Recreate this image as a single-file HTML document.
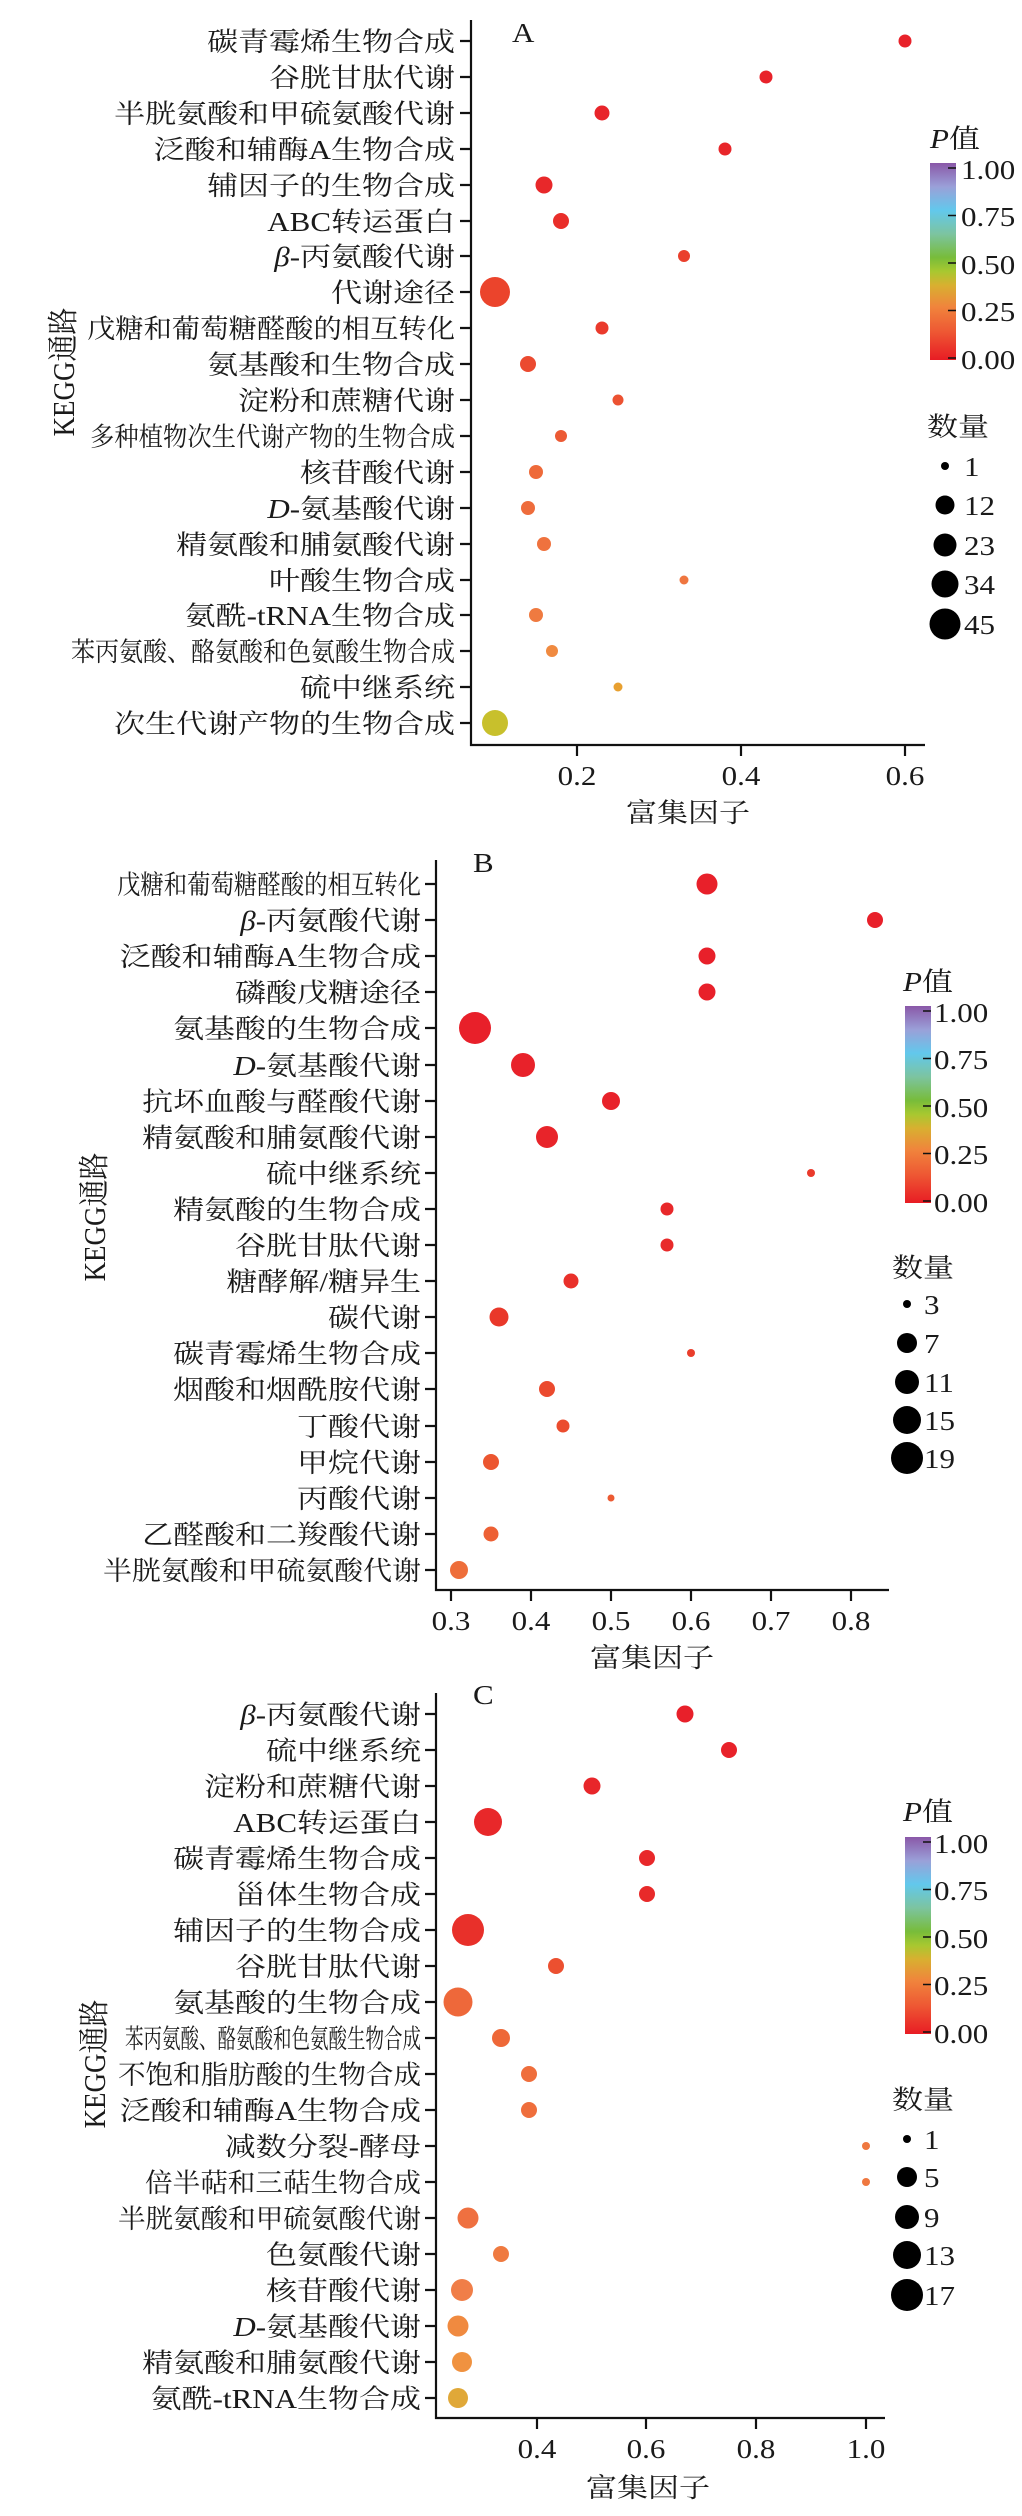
<!DOCTYPE html>
<html><head><meta charset="utf-8"><style>
html,body{margin:0;padding:0;background:#fff;}
svg text{font-family:"Liberation Serif","Noto Serif CJK SC","Noto Sans CJK SC",serif;fill:#1a1a1a;}
</style></head><body>
<svg width="1022" height="2511" viewBox="0 0 1022 2511" xmlns="http://www.w3.org/2000/svg">
<defs>
<linearGradient id="pg" x1="0" y1="1" x2="0" y2="0">
<stop offset="0" stop-color="#e81c24"/>
<stop offset="0.15" stop-color="#ee5a34"/>
<stop offset="0.27" stop-color="#f0843c"/>
<stop offset="0.38" stop-color="#d8b030"/>
<stop offset="0.45" stop-color="#a8c830"/>
<stop offset="0.52" stop-color="#78bc3a"/>
<stop offset="0.64" stop-color="#7cc4a0"/>
<stop offset="0.76" stop-color="#62c8ec"/>
<stop offset="0.88" stop-color="#9aa0d8"/>
<stop offset="1" stop-color="#8a58a8"/>
</linearGradient>
</defs>
<g font-size="31">

<!-- ================= PANEL A ================= -->
<g stroke="#111" stroke-width="2.2" fill="none">
<path d="M471 20 V745 H925"/>
<path d="M460 41H471M460 77H471M460 113H471M460 149H471M460 185H471M460 221H471M460 256H471M460 292H471M460 328H471M460 364H471M460 400H471M460 436H471M460 472H471M460 508H471M460 544H471M460 580H471M460 615H471M460 651H471M460 687H471M460 723H471"/>
<path d="M577 745V756M741 745V756M905 745V756"/>
</g>
<g text-anchor="end">
<text transform="translate(455,51) scale(1,0.87)">碳青霉烯生物合成</text>
<text transform="translate(455,87) scale(1,0.87)">谷胱甘肽代谢</text>
<text transform="translate(455,123) scale(1,0.87)">半胱氨酸和甲硫氨酸代谢</text>
<text transform="translate(455,159) scale(1,0.87)">泛酸和辅酶A生物合成</text>
<text transform="translate(455,195) scale(1,0.87)">辅因子的生物合成</text>
<text transform="translate(455,231) scale(1,0.87)">ABC转运蛋白</text>
<text transform="translate(455,266) scale(1,0.87)"><tspan font-style="italic">β</tspan>-丙氨酸代谢</text>
<text transform="translate(455,302) scale(1,0.87)">代谢途径</text>
<text transform="translate(455,338) scale(1,0.87)" textLength="368" lengthAdjust="spacingAndGlyphs">戊糖和葡萄糖醛酸的相互转化</text>
<text transform="translate(455,374) scale(1,0.87)">氨基酸和生物合成</text>
<text transform="translate(455,410) scale(1,0.87)">淀粉和蔗糖代谢</text>
<text transform="translate(455,446) scale(1,0.87)" textLength="365" lengthAdjust="spacingAndGlyphs">多种植物次生代谢产物的生物合成</text>
<text transform="translate(455,482) scale(1,0.87)">核苷酸代谢</text>
<text transform="translate(455,518) scale(1,0.87)"><tspan font-style="italic">D</tspan>-氨基酸代谢</text>
<text transform="translate(455,554) scale(1,0.87)">精氨酸和脯氨酸代谢</text>
<text transform="translate(455,590) scale(1,0.87)">叶酸生物合成</text>
<text transform="translate(455,625) scale(1,0.87)">氨酰-tRNA生物合成</text>
<text transform="translate(455,661) scale(1,0.87)" textLength="384" lengthAdjust="spacingAndGlyphs">苯丙氨酸、酪氨酸和色氨酸生物合成</text>
<text transform="translate(455,697) scale(1,0.87)">硫中继系统</text>
<text transform="translate(455,733) scale(1,0.87)">次生代谢产物的生物合成</text>
</g>
<g>
<circle cx="905" cy="41" r="6.5" fill="#e8222a"/>
<circle cx="766" cy="77" r="6.5" fill="#e8222a"/>
<circle cx="602" cy="113" r="7.5" fill="#e8242a"/>
<circle cx="725" cy="149" r="6.5" fill="#e8262a"/>
<circle cx="544" cy="185" r="8.5" fill="#e8282a"/>
<circle cx="561" cy="221" r="8" fill="#e92e2a"/>
<circle cx="684" cy="256" r="6" fill="#ea402c"/>
<circle cx="495" cy="292" r="15" fill="#eb442c"/>
<circle cx="602" cy="328" r="6.5" fill="#ea3a2c"/>
<circle cx="528" cy="364" r="8" fill="#eb4a30"/>
<circle cx="618" cy="400" r="5.5" fill="#ec5232"/>
<circle cx="561" cy="436" r="6" fill="#ec5a34"/>
<circle cx="536" cy="472" r="7" fill="#ee6a3a"/>
<circle cx="528" cy="508" r="7" fill="#ee6c3c"/>
<circle cx="544" cy="544" r="7" fill="#ef723e"/>
<circle cx="684" cy="580" r="4.5" fill="#ef7640"/>
<circle cx="536" cy="615" r="7" fill="#ef7a40"/>
<circle cx="552" cy="651" r="6" fill="#f08a40"/>
<circle cx="618" cy="687" r="4.5" fill="#e8a030"/>
<circle cx="495" cy="723" r="13" fill="#c8c02c"/>
</g>
<g text-anchor="middle">
<text transform="translate(577,785) scale(1,0.87)">0.2</text>
<text transform="translate(741,785) scale(1,0.87)">0.4</text>
<text transform="translate(905,785) scale(1,0.87)">0.6</text>
<text transform="translate(688,822) scale(1,0.87)">富集因子</text>
<text transform="translate(74,372) rotate(-90) scale(0.87,1)">KEGG通路</text>
</g>
<text transform="translate(512,42) scale(1,0.87)">A</text>
<!-- legend A -->
<text transform="translate(930,148) scale(1,0.87)"><tspan font-style="italic">P</tspan>值</text>
<rect x="930" y="163" width="26" height="197" fill="url(#pg)"/>
<g stroke="#111" stroke-width="1.5"><path d="M948 168H956M948 215.5H956M948 263H956M948 310.5H956M948 358H956"/></g>
<text transform="translate(961,179) scale(1,0.87)">1.00</text>
<text transform="translate(961,226) scale(1,0.87)">0.75</text>
<text transform="translate(961,274) scale(1,0.87)">0.50</text>
<text transform="translate(961,321) scale(1,0.87)">0.25</text>
<text transform="translate(961,369) scale(1,0.87)">0.00</text>
<text transform="translate(927,436) scale(1,0.87)">数量</text>
<circle cx="945" cy="466" r="4" fill="#000"/>
<circle cx="945" cy="505" r="9.5" fill="#000"/>
<circle cx="945" cy="545" r="11.5" fill="#000"/>
<circle cx="945" cy="584" r="13.5" fill="#000"/>
<circle cx="945" cy="624" r="15.5" fill="#000"/>
<text transform="translate(964,476) scale(1,0.87)">1</text>
<text transform="translate(964,515) scale(1,0.87)">12</text>
<text transform="translate(964,555) scale(1,0.87)">23</text>
<text transform="translate(964,594) scale(1,0.87)">34</text>
<text transform="translate(964,634) scale(1,0.87)">45</text>

<!-- ================= PANEL B ================= -->
<g stroke="#111" stroke-width="2.2" fill="none">
<path d="M436 860 V1590 H889"/>
<path d="M425 884H436M425 920H436M425 956H436M425 992H436M425 1028H436M425 1065H436M425 1101H436M425 1137H436M425 1173H436M425 1209H436M425 1245H436M425 1281H436M425 1317H436M425 1353H436M425 1389H436M425 1426H436M425 1462H436M425 1498H436M425 1534H436M425 1570H436"/>
<path d="M451 1590V1601M531 1590V1601M611 1590V1601M691 1590V1601M771 1590V1601M851 1590V1601"/>
</g>
<g text-anchor="end">
<text transform="translate(421,894) scale(1,0.87)" textLength="304" lengthAdjust="spacingAndGlyphs">戊糖和葡萄糖醛酸的相互转化</text>
<text transform="translate(421,930) scale(1,0.87)"><tspan font-style="italic">β</tspan>-丙氨酸代谢</text>
<text transform="translate(421,966) scale(1,0.87)">泛酸和辅酶A生物合成</text>
<text transform="translate(421,1002) scale(1,0.87)">磷酸戊糖途径</text>
<text transform="translate(421,1038) scale(1,0.87)">氨基酸的生物合成</text>
<text transform="translate(421,1075) scale(1,0.87)"><tspan font-style="italic">D</tspan>-氨基酸代谢</text>
<text transform="translate(421,1111) scale(1,0.87)">抗坏血酸与醛酸代谢</text>
<text transform="translate(421,1147) scale(1,0.87)">精氨酸和脯氨酸代谢</text>
<text transform="translate(421,1183) scale(1,0.87)">硫中继系统</text>
<text transform="translate(421,1219) scale(1,0.87)">精氨酸的生物合成</text>
<text transform="translate(421,1255) scale(1,0.87)">谷胱甘肽代谢</text>
<text transform="translate(421,1291) scale(1,0.87)">糖酵解/糖异生</text>
<text transform="translate(421,1327) scale(1,0.87)">碳代谢</text>
<text transform="translate(421,1363) scale(1,0.87)">碳青霉烯生物合成</text>
<text transform="translate(421,1399) scale(1,0.87)">烟酸和烟酰胺代谢</text>
<text transform="translate(421,1436) scale(1,0.87)">丁酸代谢</text>
<text transform="translate(421,1472) scale(1,0.87)">甲烷代谢</text>
<text transform="translate(421,1508) scale(1,0.87)">丙酸代谢</text>
<text transform="translate(421,1544) scale(1,0.87)">乙醛酸和二羧酸代谢</text>
<text transform="translate(421,1580) scale(1,0.87)" textLength="318" lengthAdjust="spacingAndGlyphs">半胱氨酸和甲硫氨酸代谢</text>
</g>
<g>
<circle cx="707" cy="884" r="10.5" fill="#e8202a"/>
<circle cx="875" cy="920" r="8" fill="#e8202a"/>
<circle cx="707" cy="956" r="8.5" fill="#e8202a"/>
<circle cx="707" cy="992" r="8.5" fill="#e8202a"/>
<circle cx="475" cy="1028" r="16" fill="#e8202a"/>
<circle cx="523" cy="1065" r="12" fill="#e8222a"/>
<circle cx="611" cy="1101" r="9" fill="#e8222a"/>
<circle cx="547" cy="1137" r="11" fill="#e8242a"/>
<circle cx="811" cy="1173" r="4" fill="#ea3a2c"/>
<circle cx="667" cy="1209" r="6.5" fill="#e8282a"/>
<circle cx="667" cy="1245" r="6.5" fill="#e82a2a"/>
<circle cx="571" cy="1281" r="7.5" fill="#e9302a"/>
<circle cx="499" cy="1317" r="9.5" fill="#e9382a"/>
<circle cx="691" cy="1353" r="4" fill="#ea3e2c"/>
<circle cx="547" cy="1389" r="8" fill="#eb4a2e"/>
<circle cx="563" cy="1426" r="6.5" fill="#eb4c2e"/>
<circle cx="491" cy="1462" r="8" fill="#ec5630"/>
<circle cx="611" cy="1498" r="3.5" fill="#ec5a32"/>
<circle cx="491" cy="1534" r="7.5" fill="#ed6034"/>
<circle cx="459" cy="1570" r="9" fill="#ee6e3a"/>
</g>
<g text-anchor="middle">
<text transform="translate(451,1630) scale(1,0.87)">0.3</text>
<text transform="translate(531,1630) scale(1,0.87)">0.4</text>
<text transform="translate(611,1630) scale(1,0.87)">0.5</text>
<text transform="translate(691,1630) scale(1,0.87)">0.6</text>
<text transform="translate(771,1630) scale(1,0.87)">0.7</text>
<text transform="translate(851,1630) scale(1,0.87)">0.8</text>
<text transform="translate(652,1667) scale(1,0.87)">富集因子</text>
<text transform="translate(105,1217) rotate(-90) scale(0.87,1)">KEGG通路</text>
</g>
<text transform="translate(473,872) scale(1,0.87)">B</text>
<!-- legend B -->
<text transform="translate(903,991) scale(1,0.87)"><tspan font-style="italic">P</tspan>值</text>
<rect x="905" y="1006" width="26" height="197" fill="url(#pg)"/>
<g stroke="#111" stroke-width="1.5"><path d="M923 1011H931M923 1058.5H931M923 1106H931M923 1153.5H931M923 1201H931"/></g>
<text transform="translate(934,1022) scale(1,0.87)">1.00</text>
<text transform="translate(934,1069) scale(1,0.87)">0.75</text>
<text transform="translate(934,1117) scale(1,0.87)">0.50</text>
<text transform="translate(934,1164) scale(1,0.87)">0.25</text>
<text transform="translate(934,1212) scale(1,0.87)">0.00</text>
<text transform="translate(892,1277) scale(1,0.87)">数量</text>
<circle cx="907" cy="1304" r="4" fill="#000"/>
<circle cx="907" cy="1343" r="10" fill="#000"/>
<circle cx="907" cy="1382" r="12" fill="#000"/>
<circle cx="907" cy="1420" r="14" fill="#000"/>
<circle cx="907" cy="1458" r="16" fill="#000"/>
<text transform="translate(924,1314) scale(1,0.87)">3</text>
<text transform="translate(924,1353) scale(1,0.87)">7</text>
<text transform="translate(924,1392) scale(1,0.87)">11</text>
<text transform="translate(924,1430) scale(1,0.87)">15</text>
<text transform="translate(924,1468) scale(1,0.87)">19</text>

<!-- ================= PANEL C ================= -->
<g stroke="#111" stroke-width="2.2" fill="none">
<path d="M436 1693 V2418 H885"/>
<path d="M425 1714H436M425 1750H436M425 1786H436M425 1822H436M425 1858H436M425 1894H436M425 1930H436M425 1966H436M425 2002H436M425 2038H436M425 2074H436M425 2110H436M425 2146H436M425 2182H436M425 2218H436M425 2254H436M425 2290H436M425 2326H436M425 2362H436M425 2398H436"/>
<path d="M537 2418V2429M646 2418V2429M756 2418V2429M866 2418V2429"/>
</g>
<g text-anchor="end">
<text transform="translate(421,1724) scale(1,0.87)"><tspan font-style="italic">β</tspan>-丙氨酸代谢</text>
<text transform="translate(421,1760) scale(1,0.87)">硫中继系统</text>
<text transform="translate(421,1796) scale(1,0.87)">淀粉和蔗糖代谢</text>
<text transform="translate(421,1832) scale(1,0.87)">ABC转运蛋白</text>
<text transform="translate(421,1868) scale(1,0.87)">碳青霉烯生物合成</text>
<text transform="translate(421,1904) scale(1,0.87)">甾体生物合成</text>
<text transform="translate(421,1940) scale(1,0.87)">辅因子的生物合成</text>
<text transform="translate(421,1976) scale(1,0.87)">谷胱甘肽代谢</text>
<text transform="translate(421,2012) scale(1,0.87)">氨基酸的生物合成</text>
<text transform="translate(421,2048) scale(1,0.87)" textLength="296" lengthAdjust="spacingAndGlyphs">苯丙氨酸、酪氨酸和色氨酸生物合成</text>
<text transform="translate(421,2084) scale(1,0.87)" textLength="303" lengthAdjust="spacingAndGlyphs">不饱和脂肪酸的生物合成</text>
<text transform="translate(421,2120) scale(1,0.87)">泛酸和辅酶A生物合成</text>
<text transform="translate(421,2156) scale(1,0.87)">减数分裂-酵母</text>
<text transform="translate(421,2192) scale(1,0.87)" textLength="276" lengthAdjust="spacingAndGlyphs">倍半萜和三萜生物合成</text>
<text transform="translate(421,2228) scale(1,0.87)" textLength="303" lengthAdjust="spacingAndGlyphs">半胱氨酸和甲硫氨酸代谢</text>
<text transform="translate(421,2264) scale(1,0.87)">色氨酸代谢</text>
<text transform="translate(421,2300) scale(1,0.87)">核苷酸代谢</text>
<text transform="translate(421,2336) scale(1,0.87)"><tspan font-style="italic">D</tspan>-氨基酸代谢</text>
<text transform="translate(421,2372) scale(1,0.87)">精氨酸和脯氨酸代谢</text>
<text transform="translate(421,2408) scale(1,0.87)">氨酰-tRNA生物合成</text>
</g>
<g>
<circle cx="685" cy="1714" r="8.5" fill="#e8202a"/>
<circle cx="729" cy="1750" r="8" fill="#e8222a"/>
<circle cx="592" cy="1786" r="8.5" fill="#e8262a"/>
<circle cx="488" cy="1822" r="14" fill="#e8282a"/>
<circle cx="647" cy="1858" r="8" fill="#e8282a"/>
<circle cx="647" cy="1894" r="8" fill="#e82a2a"/>
<circle cx="468" cy="1930" r="16" fill="#e8302a"/>
<circle cx="556" cy="1966" r="8" fill="#ec5030"/>
<circle cx="458" cy="2002" r="14.5" fill="#ee683a"/>
<circle cx="501" cy="2038" r="9" fill="#ee6838"/>
<circle cx="529" cy="2074" r="8" fill="#ef6e3c"/>
<circle cx="529" cy="2110" r="8" fill="#ef6e3c"/>
<circle cx="866" cy="2146" r="4" fill="#ef7840"/>
<circle cx="866" cy="2182" r="4" fill="#ef7840"/>
<circle cx="468" cy="2218" r="10.5" fill="#ef7040"/>
<circle cx="501" cy="2254" r="8" fill="#ef7a40"/>
<circle cx="462" cy="2290" r="11" fill="#f07e48"/>
<circle cx="458" cy="2326" r="10.5" fill="#f08a40"/>
<circle cx="462" cy="2362" r="10" fill="#f09240"/>
<circle cx="458" cy="2398" r="10" fill="#e0a838"/>
</g>
<g text-anchor="middle">
<text transform="translate(537,2458) scale(1,0.87)">0.4</text>
<text transform="translate(646,2458) scale(1,0.87)">0.6</text>
<text transform="translate(756,2458) scale(1,0.87)">0.8</text>
<text transform="translate(866,2458) scale(1,0.87)">1.0</text>
<text transform="translate(648,2497) scale(1,0.87)">富集因子</text>
<text transform="translate(105,2064) rotate(-90) scale(0.87,1)">KEGG通路</text>
</g>
<text transform="translate(473,1704) scale(1,0.87)">C</text>
<!-- legend C -->
<text transform="translate(903,1821) scale(1,0.87)"><tspan font-style="italic">P</tspan>值</text>
<rect x="905" y="1837" width="26" height="197" fill="url(#pg)"/>
<g stroke="#111" stroke-width="1.5"><path d="M923 1842H931M923 1889.5H931M923 1937H931M923 1984.5H931M923 2032H931"/></g>
<text transform="translate(934,1853) scale(1,0.87)">1.00</text>
<text transform="translate(934,1900) scale(1,0.87)">0.75</text>
<text transform="translate(934,1948) scale(1,0.87)">0.50</text>
<text transform="translate(934,1995) scale(1,0.87)">0.25</text>
<text transform="translate(934,2043) scale(1,0.87)">0.00</text>
<text transform="translate(892,2109) scale(1,0.87)">数量</text>
<circle cx="907" cy="2139" r="4" fill="#000"/>
<circle cx="907" cy="2177" r="10" fill="#000"/>
<circle cx="907" cy="2217" r="12" fill="#000"/>
<circle cx="907" cy="2255" r="14" fill="#000"/>
<circle cx="907" cy="2295" r="16" fill="#000"/>
<text transform="translate(924,2149) scale(1,0.87)">1</text>
<text transform="translate(924,2187) scale(1,0.87)">5</text>
<text transform="translate(924,2227) scale(1,0.87)">9</text>
<text transform="translate(924,2265) scale(1,0.87)">13</text>
<text transform="translate(924,2305) scale(1,0.87)">17</text>
</g>
</svg>
</body></html>
